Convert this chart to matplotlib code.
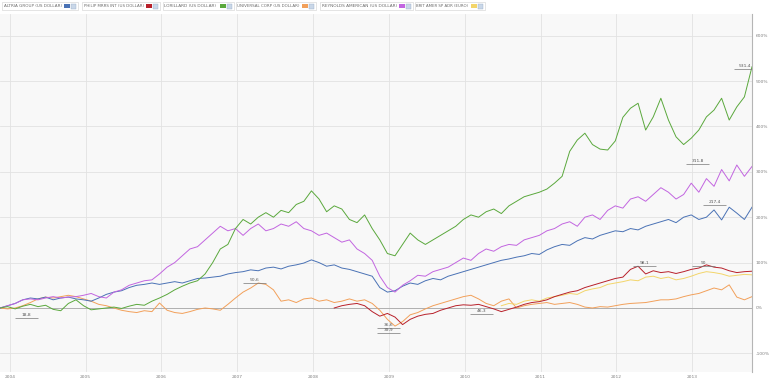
import numpy as np
import matplotlib
matplotlib.use("Agg")
import matplotlib.pyplot as plt
from matplotlib.patches import Rectangle

# samples, % change since late 2003
START, END = 2003.87, 2013.79
N = 100

altria = [0, 5, 10, 18, 22, 20, 24, 18, 22, 24,
          20, 18, 15, 22, 30, 35, 38, 45, 50, 52,
          55, 52, 55, 58, 55, 60, 65, 66, 68, 70,
          75, 78, 80, 84, 82, 88, 90, 86, 92, 95,
          99, 106, 100, 92, 95, 88, 85, 80, 75, 70,
          45, 35, 38, 48, 55, 52, 60, 65, 62, 70,
          75, 80, 85, 90, 95, 100, 105, 108, 112, 115,
          120, 118, 128, 135, 140, 138, 148, 155, 152, 160,
          165, 170, 168, 175, 172, 180, 185, 190, 195, 188,
          200, 205, 195, 200, 216, 194, 222, 209, 195, 222]

lorillard = [0, 3, -2, 4, 8, 3, 6, -3, -6, 10,
             18, 5, -4, -2, 0, 2, -1, 4, 8, 6,
             15, 22, 30, 40, 48, 55, 60, 75, 100, 130,
             140, 175, 195, 185, 200, 210, 200, 215, 210, 228,
             235, 258, 240, 212, 225, 218, 195, 188, 205, 175,
             150, 120, 115, 140, 165, 150, 140, 150, 160, 170,
             180, 195, 205, 200, 212, 218, 208, 225, 235, 245,
             250, 255, 262, 275, 290, 345, 370, 385, 360, 350,
             348, 368, 420, 440, 451, 392, 421, 462, 414, 377,
             360, 374, 392, 421, 436, 462, 414, 443, 465, 531.4]

universal = [0, -2, 0, 5, 12, 20, 24, 22, 25, 28,
             25, 20, 15, 8, 5, 0, -5, -8, -10, -6,
             -8, 11, -5, -10, -12, -8, -3, 0, -2, -5,
             8, 22, 35, 44, 55, 52, 40, 15, 18, 12,
             20, 22, 15, 18, 12, 15, 20, 15, 18, 10,
             -5, -25, -39.9, -30, -15, -10, -2, 5, 10, 15,
             20, 25, 28, 20, 10, 5, 15, 20, 0, 5,
             8, 10, 12, 8, 10, 12, 8, 2, 0, 3,
             2, 5, 8, 10, 11, 12, 15, 18, 18, 20,
             25, 29, 32, 38, 44, 40, 51, 24, 18, 25]

reynolds = [0, 5, 10, 18, 20, 18, 22, 25, 22, 24,
            25, 28, 32, 25, 22, 35, 40, 50, 55, 60,
            62, 75, 90, 100, 115, 130, 135, 150, 165, 180,
            170, 175, 160, 175, 185, 170, 175, 185, 180, 190,
            175, 170, 160, 165, 155, 145, 150, 130, 120, 105,
            70, 45, 35, 50, 60, 72, 70, 80, 85, 90,
            100, 110, 105, 120, 130, 125, 135, 140, 138, 150,
            155, 160, 170, 175, 185, 190, 180, 200, 205, 195,
            215, 225, 220, 240, 245, 235, 250, 265, 255, 240,
            250, 275, 255, 285, 268, 305, 280, 315, 290, 311.8]

# Philip Morris Intl starts at sample 44, BAT at sample 66
PMI_FROM = 44
pmi = [0, 5, 8, 10, 5, -8,
       -18, -12, -20, -36.6, -25, -18, -14, -12, -5, 0,
       5, 7, 6, 8, 3, -2, -8, -3, 2, 8,
       12, 14, 18, 25, 30, 35, 38, 45, 50, 55,
       60, 65, 68, 85, 92, 75, 82, 78, 80, 76,
       80, 85, 88, 95, 90, 88, 82, 78, 80, 81]

BAT_FROM = 66
bat = [5, 10, 8, 15,
       18, 15, 22, 25, 28, 32, 30, 38, 42, 45,
       52, 55, 58, 62, 60, 68, 70, 65, 68, 62,
       65, 70, 76, 80, 78, 75, 70, 72, 74, 73]

series_names = ["ALTRIA GROUP (US DOLLAR)", "PHILIP MRRS INT (US DOLLAR)",
                "LORILLARD (US DOLLAR)", "UNIVERSAL CORP (US DOLLAR)",
                "REYNOLDS AMERICAN (US DOLLAR)", "BRIT AMER SP ADR (EURO)"]
series_colors = ["#4a72b5", "#b8202a", "#5aa83c", "#f2a05a", "#c265e0", "#f3d56a"]

years = list(range(2004, 2014))
yticks = [-100, 0, 100, 200, 300, 400, 500, 600]

# value labels shown on the chart (date, %, text)
value_labels = [(2004.22, -15, "18,8"), (2007.23, 62, "50,6"),
                (2008.99, -37, "36,6"), (2008.99, -48, "39,9"),
                (2010.22, -7, "46,3"), (2012.37, 99, "98,1"),
                (2013.15, 99, "90"), (2013.07, 324, "311,8"),
                (2013.30, 233, "217,4"), (2013.70, 533, "531,4")]

dates = np.linspace(START, END, N)

fig = plt.figure(figsize=(7.7, 3.83), dpi=100)
ax = fig.add_axes([0, 1 - 372 / 383, 752 / 770, (372 - 14) / 383])
ax.set_facecolor("#f8f8f8")

ax.set_xlim(START, END)
ax.set_ylim(-141, 647.6)

ax.set_xticks(years)
ax.set_xticklabels([str(y) for y in years])
ax.set_yticks(yticks)
ax.set_yticklabels([f"{v}%" for v in yticks])
ax.yaxis.tick_right()
ax.tick_params(axis="y", length=0, labelsize=3.2, colors="#808080", pad=2.5)
ax.tick_params(axis="x", length=0, labelsize=3.2, colors="#808080", pad=2)

ax.grid(True, color="#e2e2e2", linewidth=0.6)
ax.set_axisbelow(True)
ax.axhline(0, color="#b0b0b0", linewidth=0.7, zorder=1)

for side in ["top", "left", "bottom"]:
    ax.spines[side].set_visible(False)
ax.spines["right"].set_color("#b5b5b5")
ax.spines["right"].set_linewidth(0.8)

lw = 0.7
ax.plot(dates, universal, color=series_colors[3], lw=lw)
ax.plot(dates[BAT_FROM:], bat, color=series_colors[5], lw=lw)
ax.plot(dates[PMI_FROM:], pmi, color=series_colors[1], lw=lw)
ax.plot(dates, altria, color=series_colors[0], lw=lw)
ax.plot(dates, reynolds, color=series_colors[4], lw=lw)
ax.plot(dates, lorillard, color=series_colors[2], lw=lw)

for x, y, txt in value_labels:
    ax.text(x, y, txt, fontsize=3.2, color="#555555", ha="center", va="center")
    ax.hlines(y - 7, x - 0.15, x + 0.15, color="#777777", linewidth=0.5)

# legend strip along the top
leg_x = [2, 82, 163, 236, 320, 415]
leg_w = [76, 78, 71, 80, 93, 70]
for name, col, lx, w in zip(series_names, series_colors, leg_x, leg_w):
    fx, fw = lx / 770, w / 770
    fig.patches.append(Rectangle((fx, 1 - 10 / 383), fw, 8 / 383,
                                 transform=fig.transFigure, facecolor="white",
                                 edgecolor="#cfcfcf", linewidth=0.4))
    t = fig.text(fx + 1.5 / 770, 1 - 6 / 383, name, fontsize=3.3, color="#6a6a6a",
                 va="center", ha="left")
    # squeeze the label so it fits before the swatch
    fig.canvas.draw()
    tw = t.get_window_extent().width
    room = w - 17
    if tw > room:
        t.set_fontsize(3.3 * room / tw)
    fig.patches.append(Rectangle(((lx + w - 14) / 770, 1 - 7.5 / 383), 6 / 770, 3 / 383,
                                 transform=fig.transFigure, facecolor=col,
                                 edgecolor="none"))
    fig.patches.append(Rectangle(((lx + w - 7) / 770, 1 - 8.5 / 383), 5 / 770, 5 / 383,
                                 transform=fig.transFigure, facecolor="#c9d7e8",
                                 edgecolor="#9aaec8", linewidth=0.3))

fig.savefig("out.png", dpi=100)
